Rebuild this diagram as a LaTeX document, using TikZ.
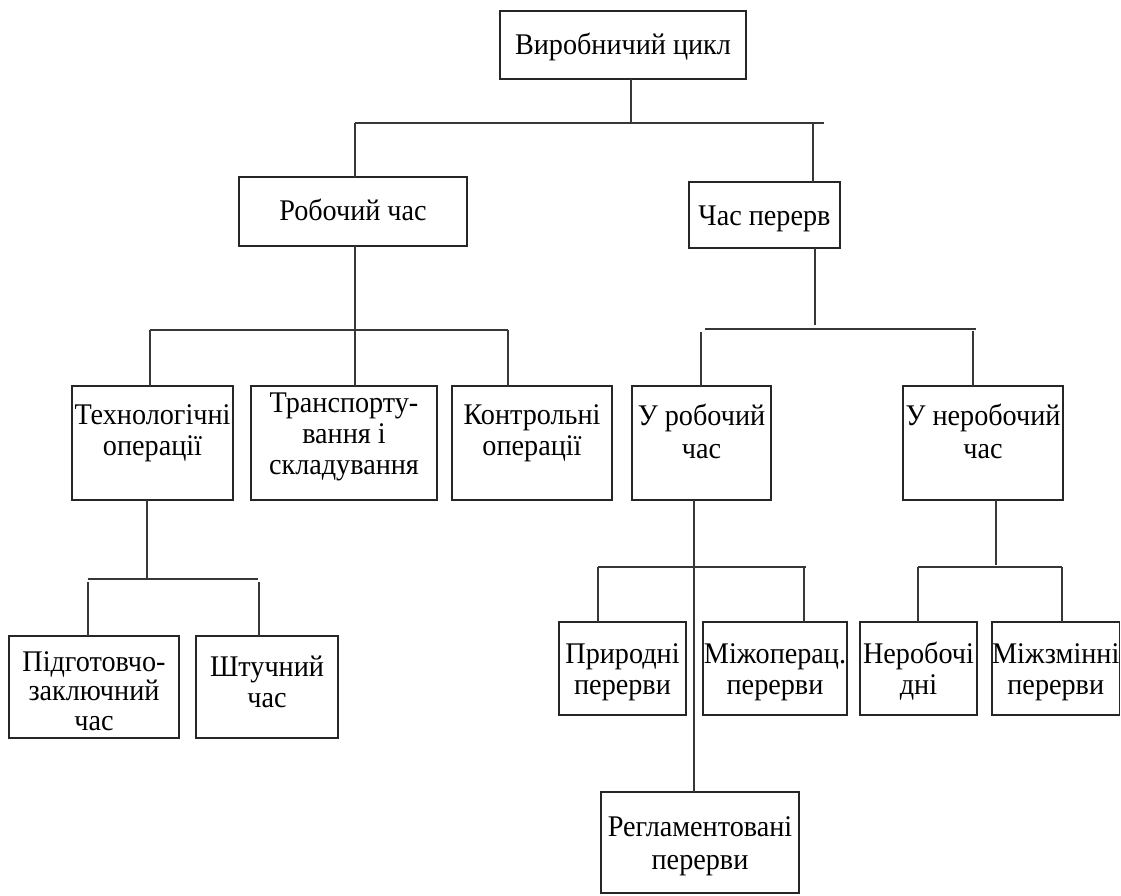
\documentclass[tikz,border=0pt]{standalone}
\usepackage{fontspec}
\setmainfont{Liberation Serif}[FakeStretch=0.94]

% one centred line of a box
\newcommand{\row}[1]{\hbox to\hsize{\hss#1\hss}}
% box contents: [line spacing] width, height, first baseline below the top, lines
\newcommand{\boxtext}[5][31.5pt]{\vbox to #3{\hsize=#2\relax
  \baselineskip=#1\lineskiplimit=-\maxdimen
  \hbox{}\kern\dimexpr#4-#1\relax #5\vss}}

\definecolor{linegray}{RGB}{55,55,55}
\tikzset{
  box/.style={draw=black!85, line width=1.4pt, inner sep=0pt, outer sep=0pt,
              font=\fontsize{30}{31.5}\selectfont},
  conn/.style={draw=linegray, line width=1.3pt}
}

\begin{document}
\begin{tikzpicture}[x=1pt, y=-1pt]
\useasboundingbox (0,0) rectangle (1121,895);

% ---- level 0 and 1
\node[box] (top)  at (623,45)    {\boxtext{246pt}{68pt}{43pt}{\row{Виробничий цикл}}};
\node[box] (work) at (353,211.5) {\boxtext{228pt}{69pt}{43pt}{\row{Робочий час}}};
\node[box] (brk)  at (764.5,215) {\boxtext{151pt}{66pt}{43pt}{\row{Час перерв}}};

% ---- level 2
\node[box] (tech)   at (152.5,443) {\boxtext[31pt]{161pt}{114pt}{38pt}{\row{Технологічні}\row{операції}}};
\node[box] (trans)  at (344,443)   {\boxtext[31pt]{186pt}{114pt}{26pt}{\row{Транспорту-}\row{вання і}\row{складування}}};
\node[box] (ctrl)   at (532,443)   {\boxtext[31pt]{160pt}{114pt}{38pt}{\row{Контрольні}\row{операції}}};
\node[box] (uwork)  at (701.5,443) {\boxtext[33pt]{139pt}{114pt}{39pt}{\row{У робочий}\row{час}}};
\node[box] (unwork) at (983,443)   {\boxtext[33pt]{160pt}{114pt}{39pt}{\row{У неробочий}\row{час}}};

% ---- level 3
\node[box] (prep)    at (94,687)     {\boxtext[29.5pt]{170pt}{102pt}{35pt}{\row{Підготовчо-}\row{заключний}\row{час}}};
\node[box] (piece)   at (267,687)    {\boxtext{142pt}{102pt}{40pt}{\row{Штучний}\row{час}}};
\node[box] (nat)     at (622.5,668.5){\boxtext{127pt}{93pt}{41pt}{\row{Природні}\row{перерви}}};
\node[box] (interop) at (775,668.5)  {\boxtext{144pt}{93pt}{41pt}{\row{Міжопе­рац.}\row{перерви}}};
\node[box] (nwd)     at (918.5,668.5){\boxtext{117pt}{93pt}{41pt}{\row{Неробочі}\row{дні}}};
\node[box] (shift)   at (1055.75,668.5){\boxtext{127.5pt}{93pt}{41pt}{\row{Міжзмінні}\row{перерви}}};
\node[box] (reg)     at (700,842.5)  {\boxtext[33pt]{198pt}{101pt}{44pt}{\row{Регламентовані}\row{перерви}}};

% ---- junction points
\coordinate (b0m) at (631,123);
\coordinate (b0l) at (355,123);
\coordinate (b0r) at (824,123);
\coordinate (b0c) at (813,123);

\coordinate (b1m) at (355,330);
\coordinate (b1l) at (150,330);
\coordinate (b1r) at (508,330);

\coordinate (b2m) at (815,329);
\coordinate (b2l) at (701,329);
\coordinate (b2r) at (976,329);
\coordinate (b2a) at (701,332);
\coordinate (b2b) at (973,331);

\coordinate (b3m) at (147,579);
\coordinate (b3l) at (88,579);
\coordinate (b3r) at (258,579);
\coordinate (b3a) at (88,582);
\coordinate (b3b) at (259,582);

\coordinate (b4m) at (694,567);
\coordinate (b4l) at (598,567);
\coordinate (b4r) at (806,567);
\coordinate (b4b) at (804,567);

\coordinate (b5m) at (996,567);
\coordinate (b5l) at (918,567);
\coordinate (b5r) at (1062,567);

% ---- connectors
\draw[conn] (top.south -| b0m) -- (b0m);
\draw[conn] (b0l) -- (b0r);
\draw[conn] (b0l) -- (b0l |- work.north);
\draw[conn] (b0c) -- (b0c |- brk.north);

\draw[conn] (work.south -| b1m) -- (trans.north -| b1m);
\draw[conn] (b1l) -- (b1r);
\draw[conn] (b1l) -- (b1l |- tech.north);
\draw[conn] (b1r) -- (b1r |- ctrl.north);

\draw[conn] (brk.south -| b2m) -- ([yshift=4pt]b2m);
\draw[conn] ([xshift=4pt]b2l) -- (b2r);
\draw[conn] (b2a) -- (b2a |- uwork.north);
\draw[conn] (b2b) -- (b2b |- unwork.north);

\draw[conn] (tech.south -| b3m) -- (b3m);
\draw[conn] (b3l) -- (b3r);
\draw[conn] (b3a) -- (b3a |- prep.north);
\draw[conn] (b3b) -- (b3b |- piece.north);

\draw[conn] (uwork.south -| b4m) -- (reg.north -| b4m);
\draw[conn] (b4l) -- (b4r);
\draw[conn] (b4l) -- (b4l |- nat.north);
\draw[conn] (b4b) -- (b4b |- interop.north);

\draw[conn] (unwork.south -| b5m) -- ([yshift=2pt]b5m);
\draw[conn] (b5l) -- (b5r);
\draw[conn] (b5l) -- (b5l |- nwd.north);
\draw[conn] (b5r) -- (b5r |- shift.north);
\end{tikzpicture}
\end{document}
